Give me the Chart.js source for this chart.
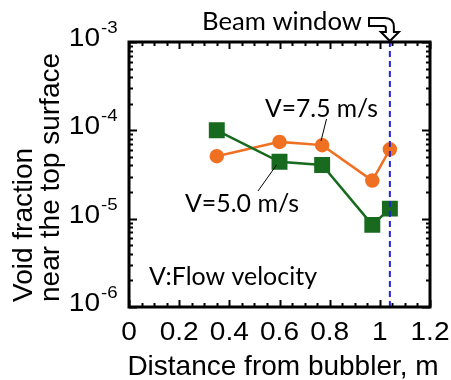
<!DOCTYPE html>
<html>
<head>
<meta charset="utf-8">
<script src="https://cdn.jsdelivr.net/npm/chart.js@4"></script>
<style>
  html, body { margin: 0; padding: 0; background: #fff; }
  #chart { display: block; }
</style>
</head>
<body>
<canvas id="chart" width="451" height="380"></canvas>
<script>
// Distance from the bubbler (m) and void fraction near the top surface
var distance = [0.35, 0.60, 0.77, 0.97, 1.04];
var voidV75 = [5.1e-5, 7.4e-5, 6.8e-5, 2.7e-5, 6.1e-5];
var voidV50 = [1.0e-4, 4.4e-5, 4.05e-5, 8.5e-6, 1.3e-5];
var beamWindowX = 1.04;

// axis ticks
var xTicks = [0, 0.2, 0.4, 0.6, 0.8, 1.0, 1.2];
var xTickLabels = ['0', '0.2', '0.4', '0.6', '0.8', '1', '1.2'];
var yExponents = [-6, -5, -4, -3];

var ORANGE = '#F07022';
var GREEN = '#176A1E';
var BLUE = '#2323D8';
var LABEL_FONT = 'Arial, "Liberation Sans", sans-serif';
var NOTE_FONT = 'Lato, "Open Sans", sans-serif';
var TICK_STRETCH = 1.08;   // tick labels in the original look a bit wide

// draw text squeezed/stretched horizontally
function stretchText(ctx, text, x, y, sx, align) {
    ctx.save();
    ctx.translate(x, y);
    ctx.scale(sx, 1);
    ctx.textAlign = align;
    ctx.fillText(text, 0, 0);
    ctx.restore();
}

// left aligned text fitted to a given width
function fitText(ctx, text, x, y, width) {
    var w = ctx.measureText(text).width;
    stretchText(ctx, text, x, y, width / w, 'left');
}

function toPoints(xs, ys) {
    var pts = [];
    for (var i = 0; i < xs.length; i++) {
        pts.push({ x: xs[i], y: ys[i] });
    }
    return pts;
}

// frame, inward ticks, labels and notes
var framePlugin = {
    id: 'frame',
    afterDraw: function(chart) {
        var ctx = chart.ctx;
        var xs = chart.scales.x;
        var ys = chart.scales.y;
        var a = chart.chartArea;
        var i, k, px, py;

        ctx.save();
        ctx.strokeStyle = '#000';

        // ticks along x (top and bottom), minor every 0.05
        ctx.lineWidth = 2;
        for (i = 0; i <= 24; i++) {
            var v = i * 0.05;
            px = Math.round(xs.getPixelForValue(v)) + 0.5;
            var len = (i % 4 === 0) ? 7 : 4;
            ctx.beginPath();
            ctx.moveTo(px, a.bottom); ctx.lineTo(px, a.bottom - len);
            ctx.moveTo(px, a.top); ctx.lineTo(px, a.top + len);
            ctx.stroke();
        }

        // ticks along y (left and right), log minors
        for (i = 0; i < yExponents.length; i++) {
            for (k = 1; k <= 9; k++) {
                if (i === yExponents.length - 1 && k > 1) break;
                var val = k * Math.pow(10, yExponents[i]);
                py = Math.round(ys.getPixelForValue(val)) + 0.5;
                var l = (k === 1) ? 8 : 4;
                ctx.beginPath();
                ctx.moveTo(a.left, py); ctx.lineTo(a.left + l, py);
                ctx.moveTo(a.right, py); ctx.lineTo(a.right - l, py);
                ctx.stroke();
            }
        }

        // plot border
        ctx.lineWidth = 3;
        ctx.strokeRect(a.left, a.top, a.right - a.left, a.bottom - a.top);

        // x tick labels
        ctx.fillStyle = '#000';
        ctx.font = '26px ' + LABEL_FONT;
        ctx.textBaseline = 'alphabetic';
        for (i = 0; i < xTicks.length; i++) {
            px = xs.getPixelForValue(xTicks[i]);
            stretchText(ctx, xTickLabels[i], px, 340, TICK_STRETCH, 'center');
        }

        // y tick labels 10^n
        for (i = 0; i < yExponents.length; i++) {
            py = ys.getPixelForValue(Math.pow(10, yExponents[i]));
            ctx.font = '26px ' + LABEL_FONT;
            stretchText(ctx, '10', 100, py + 4, TICK_STRETCH, 'right');
            ctx.font = '17px ' + LABEL_FONT;
            stretchText(ctx, String(yExponents[i]), 101, py - 9, 1.1, 'left');
        }

        // axis titles
        ctx.font = '28px ' + LABEL_FONT;
        ctx.textAlign = 'center';
        ctx.fillText('Distance from bubbler, m', 283, 375);

        ctx.save();
        ctx.translate(0, 302);
        ctx.rotate(-Math.PI / 2);
        ctx.textAlign = 'left';
        ctx.fillText('Void fraction', 0, 32);
        ctx.fillText('near the top surface', 0, 59);
        ctx.restore();

        // notes
        ctx.font = '25px ' + NOTE_FONT;
        fitText(ctx, 'Beam window', 202, 30, 160);
        fitText(ctx, 'V=7.5 m/s', 265, 117, 113);
        fitText(ctx, 'V=5.0 m/s', 185, 212, 114);
        fitText(ctx, 'V:Flow velocity', 149, 285, 168);

        // leader lines
        ctx.lineWidth = 1;
        ctx.beginPath();
        ctx.moveTo(326.5, 119); ctx.lineTo(321, 141);
        ctx.moveTo(258, 191); ctx.lineTo(276.5, 165);
        ctx.stroke();

        // bent arrow pointing at the beam window
        var tipX = xs.getPixelForValue(beamWindowX);
        ctx.lineWidth = 2;
        ctx.fillStyle = '#fff';
        ctx.beginPath();
        ctx.moveTo(369, 18);
        ctx.lineTo(tipX - 5, 18);
        ctx.quadraticCurveTo(tipX + 4, 18, tipX + 4, 27);
        ctx.lineTo(tipX + 4, 32);
        ctx.lineTo(tipX + 9, 32);
        ctx.lineTo(tipX, 41);
        ctx.lineTo(tipX - 9, 32);
        ctx.lineTo(tipX - 4, 32);
        ctx.lineTo(tipX - 4, 28);
        ctx.quadraticCurveTo(tipX - 4, 26, tipX - 6, 26);
        ctx.lineTo(369, 26);
        ctx.closePath();
        ctx.fill();
        ctx.stroke();

        ctx.restore();
    }
};

new Chart(document.getElementById('chart'), {
    type: 'line',
    data: {
        datasets: [
            {
                label: 'Beam window',
                data: toPoints([beamWindowX, beamWindowX], [1e-6, 1e-3]),
                borderColor: BLUE,
                borderWidth: 2,
                borderDash: [6, 4],
                pointRadius: 0,
                order: 0
            },
            {
                label: 'V=5.0 m/s',
                data: toPoints(distance, voidV50),
                borderColor: GREEN,
                backgroundColor: GREEN,
                borderWidth: 2.5,
                pointStyle: 'rect',
                pointRadius: 9.5,
                order: 1
            },
            {
                label: 'V=7.5 m/s',
                data: toPoints(distance, voidV75),
                borderColor: ORANGE,
                backgroundColor: ORANGE,
                borderWidth: 2.5,
                pointStyle: 'circle',
                pointRadius: 6,
                order: 2
            }
        ]
    },
    options: {
        responsive: false,
        animation: false,
        devicePixelRatio: 1,
        layout: { padding: { left: 129, right: 21, top: 42, bottom: 73 } },
        scales: {
            x: { type: 'linear', min: 0, max: 1.2, display: false },
            y: { type: 'logarithmic', min: 1e-6, max: 1e-3, display: false }
        },
        plugins: {
            legend: { display: false },
            tooltip: { enabled: false }
        }
    },
    plugins: [framePlugin]
});
</script>
</body>
</html>
